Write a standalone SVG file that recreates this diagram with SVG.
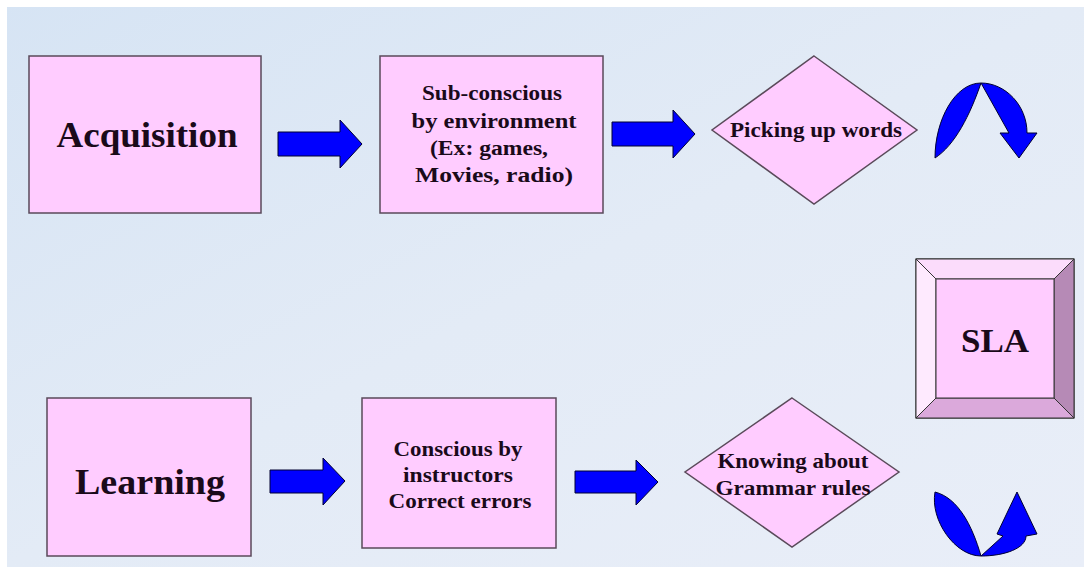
<svg xmlns="http://www.w3.org/2000/svg" width="1084" height="569" viewBox="0 0 1084 569">
<defs>
<linearGradient id="bg" x1="0" y1="0" x2="1" y2="1">
<stop offset="0" stop-color="#d6e4f4"/>
<stop offset="0.5" stop-color="#e3ebf6"/>
<stop offset="1" stop-color="#e9eef8"/>
</linearGradient>
<style>
.box{fill:#ffccff;stroke:#5a4a5a;stroke-width:1.5}
.arr{fill:#0000ff;stroke:#000033;stroke-width:1}
.t{font-family:"Liberation Serif","Times New Roman",serif;font-weight:bold;fill:#1a0a1a;text-anchor:middle}
</style>
</defs>
<rect x="0" y="0" width="1084" height="569" fill="url(#bg)"/>
<rect x="0" y="0" width="1084" height="7" fill="#ffffff"/>
<rect x="0" y="0" width="7" height="569" fill="#ffffff"/>
<rect x="0" y="567" width="1084" height="2" fill="#ffffff"/>
<g id="connectors">
<path class="arr" d="M278 132 H340 V120 L362 144 L340 168 V156 H278 Z"/>
<path class="arr" d="M612 122 H673 V110 L695 134 L673 158 V146 H612 Z"/>
<path class="arr" d="M270 470 H323 V458 L345 481 L323 505 V493 H270 Z"/>
<path class="arr" d="M575 471 H636 V460 L658 482 L636 505 V493 H575 Z"/>
<path class="arr" d="M935 158 C935 120 955 83 981 83 C1005 83 1027 105 1027 133 L1037 133 L1019 158 L1000 133 L1009 133 L981 83 C970 115 955 145 935 158 Z"/>
<path class="arr" d="M935 492 C930 520 955 556 981 556 C1005 556 1026 548 1026 536 L1037 534 L1017 492 L997 534 L1003 536 L981 556 C972 525 958 498 935 492 Z"/>
</g>
<g id="acquisition">
<rect class="box" x="29" y="56" width="232" height="157"/>
<text class="t" x="147" y="147" font-size="35" textLength="181" lengthAdjust="spacingAndGlyphs">Acquisition</text>
</g>
<g id="subconscious">
<rect class="box" x="380" y="56" width="223" height="157"/>
<text class="t" x="492" y="100" font-size="20" textLength="140" lengthAdjust="spacingAndGlyphs">Sub-conscious</text>
<text class="t" x="494" y="128" font-size="20" textLength="165" lengthAdjust="spacingAndGlyphs">by environment</text>
<text class="t" x="489" y="155" font-size="20" textLength="118" lengthAdjust="spacingAndGlyphs">(Ex: games,</text>
<text class="t" x="494" y="182" font-size="20" textLength="158" lengthAdjust="spacingAndGlyphs">Movies, radio)</text>
</g>
<g id="picking">
<polygon class="box" points="814,56 917,130 814,204 712,130"/>
<text class="t" x="816" y="137" font-size="21" textLength="172" lengthAdjust="spacingAndGlyphs">Picking up words</text>
</g>
<g id="sla">
<rect x="916" y="259" width="158" height="159" fill="#ffccff" stroke="#333" stroke-width="1.2"/>
<polygon points="916,259 1074,259 1054,279 936,279" fill="#fbdcfb" stroke="#333" stroke-width="1"/>
<polygon points="916,259 936,279 936,398 916,418" fill="#feeafe" stroke="#333" stroke-width="1"/>
<polygon points="1074,259 1074,418 1054,398 1054,279" fill="#b68ab6" stroke="#333" stroke-width="1"/>
<polygon points="916,418 936,398 1054,398 1074,418" fill="#dba9db" stroke="#333" stroke-width="1"/>
<rect x="936" y="279" width="118" height="119" fill="#ffccff" stroke="#333" stroke-width="1"/>
<text class="t" x="995" y="352" font-size="34" textLength="68" lengthAdjust="spacingAndGlyphs">SLA</text>
</g>
<g id="learning">
<rect class="box" x="47" y="398" width="204" height="158"/>
<text class="t" x="150" y="494" font-size="36" textLength="150" lengthAdjust="spacingAndGlyphs">Learning</text>
</g>
<g id="conscious">
<rect class="box" x="362" y="398" width="194" height="150"/>
<text class="t" x="458" y="456" font-size="21" textLength="129" lengthAdjust="spacingAndGlyphs">Conscious by</text>
<text class="t" x="458" y="482" font-size="21" textLength="110" lengthAdjust="spacingAndGlyphs">instructors</text>
<text class="t" x="460" y="508" font-size="21" textLength="143" lengthAdjust="spacingAndGlyphs">Correct errors</text>
</g>
<g id="knowing">
<polygon class="box" points="792,398 899,472 792,547 685,472"/>
<text class="t" x="793" y="468" font-size="21" textLength="151" lengthAdjust="spacingAndGlyphs">Knowing about</text>
<text class="t" x="793" y="495" font-size="21" textLength="155" lengthAdjust="spacingAndGlyphs">Grammar rules</text>
</g>
</svg>
